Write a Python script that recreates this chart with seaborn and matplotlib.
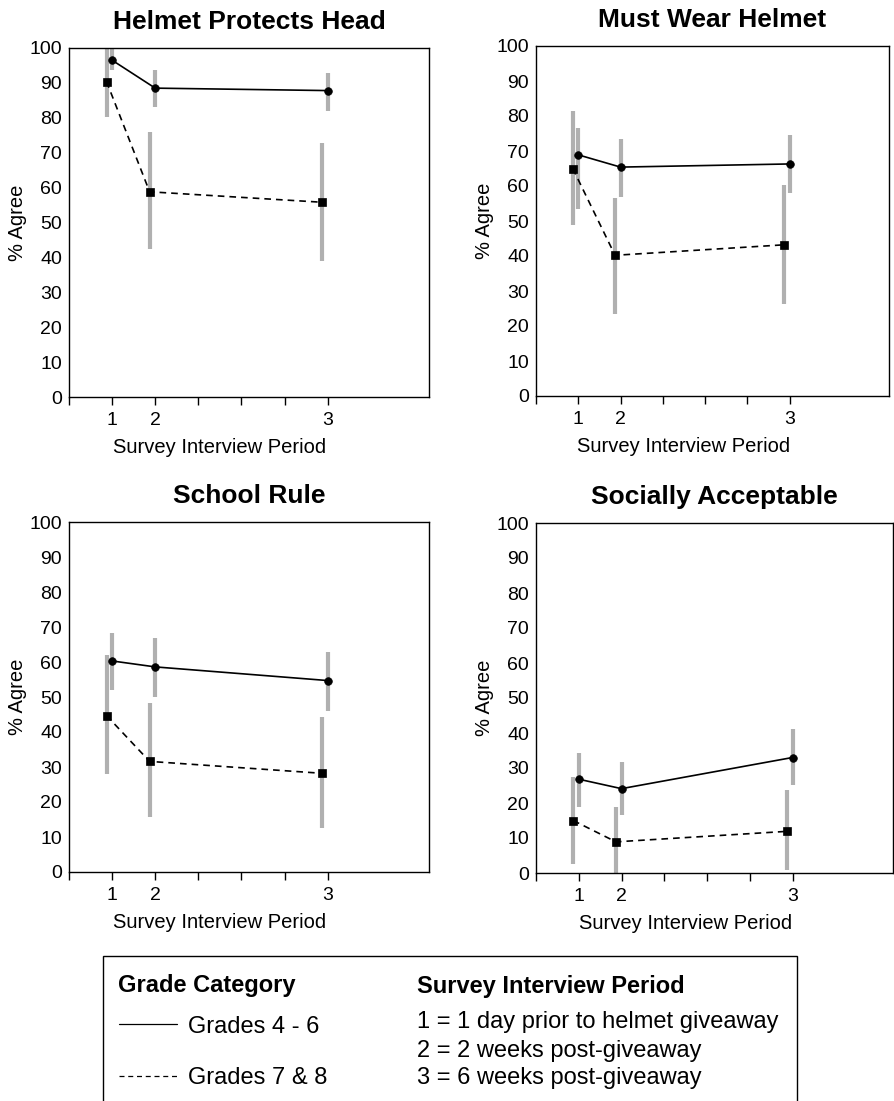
import numpy as np
import pandas as pd
import matplotlib
matplotlib.use('Agg')
import matplotlib.pyplot as plt
from matplotlib.patches import Rectangle
from matplotlib.lines import Line2D
import seaborn as sns

# Survey periods and where they sit on the x axis
periods = ['1', '2', '3']
period_x = [1, 2, 6]
offset_78 = -0.13  # grades 7 & 8 are drawn slightly left

titles = ['Helmet Protects Head', 'Must Wear Helmet', 'School Rule', 'Socially Acceptable']

# % agree, grades 4 - 6 (value, lower, upper)
g46_val = [[96.5, 88.5, 87.8], [68.9, 65.4, 66.3], [60.3, 58.6, 54.7], [26.8, 24.1, 33.0]]
g46_lo = [[93.8, 83.1, 82.0], [53.5, 56.9, 58.0], [51.9, 50.1, 46.1], [18.9, 16.5, 25.1]]
g46_hi = [[99.8, 93.6, 92.8], [76.6, 73.5, 74.5], [68.3, 66.8, 63.0], [34.4, 31.6, 41.1]]

# % agree, grades 7 & 8 (value, lower, upper)
g78_val = [[90.4, 58.8, 55.8], [65.0, 40.2, 43.2], [44.7, 31.6, 28.2], [15.0, 8.9, 11.9]]
g78_lo = [[80.2, 42.4, 38.9], [48.8, 23.5, 26.4], [27.9, 15.6, 12.5], [2.7, 0.0, 1.0]]
g78_hi = [[99.8, 75.9, 72.8], [81.3, 56.7, 60.2], [62.1, 48.2, 44.4], [27.5, 18.9, 23.7]]

legend_periods = ['1 = 1 day prior to helmet giveaway',
                  '2 = 2 weeks post-giveaway',
                  '3 = 6 weeks post-giveaway']

sns.set_style('white')
plt.rcParams['font.family'] = ['Liberation Sans', 'DejaVu Sans']
plt.rcParams['text.color'] = 'black'
plt.rcParams['axes.labelcolor'] = 'black'
plt.rcParams['xtick.color'] = 'black'
plt.rcParams['ytick.color'] = 'black'

W, H = 894, 1101
fig = plt.figure(figsize=(W / 100, H / 100), dpi=100)

# axes boxes in pixels: left, top, right, bottom
boxes = [(69, 48, 429, 397), (536, 46, 889, 396),
         (69, 522, 429, 872), (536, 523, 893, 873)]
XMAX = 8.35

for i, (l, t, r, b) in enumerate(boxes):
    ax = fig.add_axes([l / W, 1 - b / H, (r - l) / W, (b - t) / H])

    x46 = np.array(period_x, dtype=float)
    x78 = x46 + offset_78
    df = pd.concat([
        pd.DataFrame({'x': x46, 'pct': g46_val[i], 'grade': 'Grades 4 - 6'}),
        pd.DataFrame({'x': x78, 'pct': g78_val[i], 'grade': 'Grades 7 & 8'}),
    ], ignore_index=True)

    # error bars first so they sit underneath
    ax.vlines(x46, g46_lo[i], g46_hi[i], colors='#b0b0b0', linewidth=3, zorder=1)
    ax.vlines(x78, g78_lo[i], g78_hi[i], colors='#b0b0b0', linewidth=3, zorder=1)

    sns.lineplot(data=df, x='x', y='pct', style='grade',
                 markers={'Grades 4 - 6': 'o', 'Grades 7 & 8': 's'},
                 dashes={'Grades 4 - 6': '', 'Grades 7 & 8': (4, 3)},
                 color='black', linewidth=1.2, markersize=5.5,
                 markeredgecolor='black', markeredgewidth=0.5,
                 errorbar=None, legend=False, ax=ax, zorder=3)

    ax.set_xlim(0, XMAX)
    ax.set_ylim(0, 100)
    ax.set_yticks(range(0, 101, 10))
    ax.set_xticks(range(0, 7))
    ax.set_xticklabels(['', '1', '2', '', '', '', '3'])
    ax.tick_params(axis='y', length=0, pad=5, labelsize=14)
    ax.tick_params(axis='x', direction='out', length=6, width=1, pad=5,
                   labelsize=14, bottom=True, color='black')
    for s in ax.spines.values():
        s.set_color('black')
        s.set_linewidth(1)

    ax.set_title(titles[i], fontsize=19, fontweight='bold', pad=13.5)
    ax.set_ylabel('% Agree', fontsize=14.5, labelpad=2)
    ax.set_xlabel('Survey Interview Period', fontsize=14.5, labelpad=6,
                  x=3.5 / XMAX)

# legend box at the bottom
fig.add_artist(Rectangle((103 / W, -0.01), (797 - 103) / W, 0.01 + 1 - 956 / H,
                         transform=fig.transFigure, fill=False,
                         edgecolor='black', linewidth=1, clip_on=False))

fig.text(118 / W, 1 - 992 / H, 'Grade Category', fontsize=17,
         fontweight='bold', va='baseline')
fig.add_artist(Line2D([119 / W, 177 / W], [1 - 1024 / H] * 2,
                      transform=fig.transFigure, color='black', linewidth=0.9))
fig.text(188 / W, 1 - 1033 / H, 'Grades 4 - 6', fontsize=17, va='baseline')
fig.add_artist(Line2D([119 / W, 177 / W], [1 - 1076 / H] * 2,
                      transform=fig.transFigure, color='black', linewidth=0.9,
                      dashes=(4, 3)))
fig.text(188 / W, 1 - 1084 / H, 'Grades 7 & 8', fontsize=17, va='baseline')

fig.text(417 / W, 1 - 993 / H, 'Survey Interview Period', fontsize=17,
         fontweight='bold', va='baseline')
for txt, yb in zip(legend_periods, [1028, 1057, 1084]):
    fig.text(417 / W, 1 - yb / H, txt, fontsize=17, va='baseline')

fig.savefig('out.png', dpi=100)
